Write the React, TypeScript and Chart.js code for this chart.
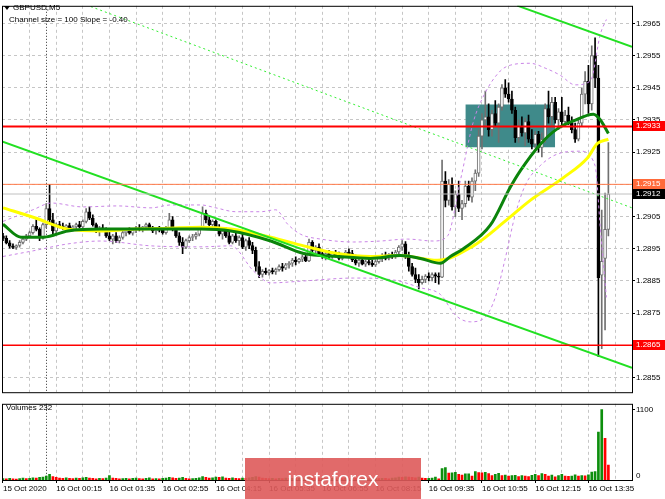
import React, { useEffect, useRef } from 'react';
import { Chart, registerables } from 'chart.js';
Chart.register(...registerables);

const FONT = "'Liberation Sans', Arial, sans-serif";

// ---- time axis (bar index relative to 16 Oct 00:00, M5 bars) ----
const FIRST_BAR = -13;
const X_MIN = -13.3;
const X_MAX = 176.1;
const gridBars = [-5, 3, 11, 19, 27, 35, 43, 51, 59, 67, 75, 83, 91, 99, 107, 115, 123, 131, 139, 147, 155, 163, 171];
const labelBars = [-13, 3, 19, 35, 51, 67, 83, 99, 115, 131, 147, 163];
const labelTexts = ['15 Oct 2020', '16 Oct 00:15', '16 Oct 01:35', '16 Oct 02:55', '16 Oct 04:15', '16 Oct 05:35', '16 Oct 06:55', '16 Oct 08:15', '16 Oct 09:35', '16 Oct 10:55', '16 Oct 12:15', '16 Oct 13:35'];
const separatorBar = 0;

// ---- price axis ----
const P_MIN = 1.285045;
const P_MAX = 1.297045;
const priceTicks = [1.2855, 1.2865, 1.2875, 1.2885, 1.2895, 1.2905, 1.2915, 1.2925, 1.2935, 1.2945, 1.2955, 1.2965];

// ---- candles ----
const opens = [1.28990,1.28982,1.28968,1.28958,1.28954,1.28960,1.28970,1.28980,1.28990,1.29000,1.29020,1.29010,1.28985,
1.29025,1.29075,1.29040,1.29005,1.29025,1.29020,1.29015,1.29022,1.29012,1.29018,
1.29025,1.29018,1.29035,1.29065,1.29045,1.29025,1.29005,1.29015,1.29010,1.28990,
1.28980,1.28990,1.28975,1.28985,1.29000,1.29005,1.28998,1.29008,1.29015,1.29010,
1.29018,1.29025,1.29012,1.29005,1.29012,1.29008,1.29000,1.29015,1.29040,1.29010,
1.28990,1.28970,1.28955,1.28975,1.28985,1.28988,1.28995,1.29015,1.29060,1.29040,
1.29025,1.29035,1.29015,1.28995,1.29005,1.28990,1.28970,1.28990,1.28975,1.28985,
1.28955,1.28975,1.28960,1.28945,1.28895,1.28870,1.28880,1.28875,1.28882,1.28878,
1.28885,1.28895,1.28890,1.28900,1.28905,1.28915,1.28910,1.28918,1.28925,1.28912,
1.28970,1.28945,1.28955,1.28935,1.28930,1.28935,1.28925,1.28935,1.28930,1.28920,
1.28930,1.28940,1.28935,1.28915,1.28905,1.28915,1.28902,1.28910,1.28905,1.28900,
1.28910,1.28920,1.28930,1.28920,1.28932,1.28925,1.28940,1.28955,1.28965,1.28925,
1.28895,1.28870,1.28855,1.28845,1.28855,1.28865,1.28860,1.28870,1.28865,
1.28862,1.29160,1.29100,1.29150,1.29080,1.29120,1.29075,1.29090,1.29145,1.29110,1.29160,
1.29185,1.29300,1.29350,1.29360,1.29320,1.29370,1.29340,1.29390,1.29450,1.29430,
1.29415,1.29380,1.29295,1.29330,1.29310,1.29345,1.29290,1.29275,1.29305,1.29265,
1.29290,1.29385,1.29360,1.29405,1.29350,1.29375,1.29345,1.29365,1.29340,1.29320,
1.29290,1.29340,1.29430,1.29470,1.29400,1.29550,1.29480,1.28868,1.28920,1.29010];
const highs = [1.28998,1.28990,1.28975,1.28965,1.28962,1.28975,1.28985,1.28995,1.29005,1.29025,1.29040,1.29015,1.29030,
1.29090,1.29150,1.29060,1.29030,1.29035,1.29030,1.29025,1.29030,1.29022,1.29030,
1.29035,1.29040,1.29075,1.29080,1.29055,1.29030,1.29020,1.29025,1.29015,1.29005,
1.28995,1.29000,1.28990,1.29005,1.29010,1.29015,1.29010,1.29020,1.29025,1.29020,
1.29030,1.29030,1.29020,1.29015,1.29020,1.29015,1.29020,1.29060,1.29050,1.29015,
1.29000,1.28985,1.28980,1.28990,1.28995,1.29000,1.29020,1.29080,1.29070,1.29050,
1.29040,1.29040,1.29025,1.29010,1.29015,1.29005,1.28995,1.29000,1.28990,1.28995,
1.28980,1.28985,1.28970,1.28955,1.28910,1.28885,1.28890,1.28885,1.28890,1.28890,
1.28900,1.28905,1.28905,1.28910,1.28920,1.28925,1.28920,1.28930,1.28935,1.28980,
1.28975,1.28960,1.28965,1.28945,1.28940,1.28945,1.28940,1.28945,1.28940,1.28935,
1.28945,1.28950,1.28945,1.28930,1.28920,1.28925,1.28915,1.28920,1.28915,1.28915,
1.28925,1.28935,1.28940,1.28935,1.28940,1.28945,1.28960,1.28975,1.28972,1.28940,
1.28905,1.28890,1.28870,1.28865,1.28870,1.28875,1.28875,1.28875,1.28875,
1.29225,1.29190,1.29165,1.29170,1.29130,1.29160,1.29100,1.29160,1.29160,1.29170,1.29195,
1.29320,1.29370,1.29440,1.29400,1.29380,1.29410,1.29400,1.29460,1.29475,1.29465,
1.29440,1.29390,1.29350,1.29360,1.29355,1.29365,1.29320,1.29315,1.29315,1.29310,
1.29400,1.29440,1.29420,1.29420,1.29385,1.29420,1.29380,1.29390,1.29360,1.29340,
1.29350,1.29450,1.29500,1.29520,1.29580,1.29605,1.29520,1.29070,1.29123,1.29280];
const lows = [1.28975,1.28965,1.28952,1.28950,1.28948,1.28955,1.28965,1.28975,1.28985,1.28995,1.29005,1.28975,1.28980,
1.29015,1.29030,1.28990,1.29000,1.29015,1.29010,1.29008,1.29010,1.29005,1.29012,
1.29015,1.29015,1.29030,1.29040,1.29020,1.29000,1.28990,1.29005,1.28985,1.28975,
1.28965,1.28970,1.28968,1.28980,1.28990,1.28995,1.28992,1.29000,1.29005,1.29002,
1.29010,1.29010,1.29000,1.28995,1.29002,1.28995,1.28995,1.29010,1.29005,1.28985,
1.28960,1.28935,1.28950,1.28970,1.28975,1.28980,1.28990,1.29010,1.29030,1.29020,
1.29015,1.29010,1.28990,1.28980,1.28985,1.28965,1.28965,1.28970,1.28960,1.28950,
1.28945,1.28950,1.28935,1.28880,1.28860,1.28862,1.28870,1.28868,1.28872,1.28870,
1.28880,1.28880,1.28885,1.28890,1.28895,1.28900,1.28905,1.28910,1.28910,1.28910,
1.28935,1.28935,1.28930,1.28920,1.28915,1.28920,1.28920,1.28925,1.28915,1.28915,
1.28925,1.28930,1.28910,1.28900,1.28895,1.28900,1.28895,1.28900,1.28895,1.28895,
1.28905,1.28910,1.28915,1.28915,1.28920,1.28920,1.28935,1.28945,1.28920,1.28880,
1.28865,1.28845,1.28825,1.28840,1.28845,1.28850,1.28850,1.28845,1.28840,
1.28860,1.29080,1.29085,1.29070,1.29050,1.29065,1.29040,1.29080,1.29100,1.29095,1.29130,
1.29175,1.29260,1.29330,1.29300,1.29300,1.29330,1.29280,1.29380,1.29420,1.29405,
1.29370,1.29280,1.29280,1.29300,1.29270,1.29280,1.29260,1.29265,1.29250,1.29235,
1.29280,1.29340,1.29330,1.29340,1.29320,1.29335,1.29330,1.29335,1.29310,1.29280,
1.29285,1.29330,1.29400,1.29370,1.29380,1.29450,1.28615,1.28640,1.28698,1.28990];
const closes = [1.28982,1.28968,1.28958,1.28954,1.28960,1.28970,1.28980,1.28990,1.29000,1.29020,1.29010,1.28985,1.29025,
1.29075,1.29040,1.29005,1.29025,1.29020,1.29015,1.29022,1.29012,1.29018,1.29025,
1.29018,1.29035,1.29065,1.29045,1.29025,1.29005,1.29015,1.29010,1.28990,1.28980,
1.28990,1.28975,1.28985,1.29000,1.29005,1.28998,1.29008,1.29015,1.29010,1.29018,
1.29025,1.29012,1.29005,1.29012,1.29008,1.29000,1.29015,1.29040,1.29010,1.28990,
1.28970,1.28955,1.28975,1.28985,1.28988,1.28995,1.29015,1.29060,1.29040,1.29025,
1.29035,1.29015,1.28995,1.29005,1.28990,1.28970,1.28990,1.28975,1.28985,1.28955,
1.28975,1.28960,1.28945,1.28895,1.28870,1.28880,1.28875,1.28882,1.28878,1.28885,
1.28895,1.28890,1.28900,1.28905,1.28915,1.28910,1.28918,1.28925,1.28912,1.28970,
1.28945,1.28955,1.28935,1.28930,1.28935,1.28925,1.28935,1.28930,1.28920,1.28930,
1.28940,1.28935,1.28915,1.28905,1.28915,1.28902,1.28910,1.28905,1.28900,1.28910,
1.28920,1.28930,1.28920,1.28932,1.28925,1.28940,1.28955,1.28965,1.28925,1.28895,
1.28870,1.28855,1.28845,1.28855,1.28865,1.28860,1.28870,1.28865,1.28862,
1.29160,1.29100,1.29150,1.29080,1.29120,1.29075,1.29090,1.29145,1.29110,1.29160,1.29185,
1.29300,1.29350,1.29360,1.29320,1.29370,1.29340,1.29390,1.29450,1.29430,1.29415,
1.29380,1.29295,1.29330,1.29310,1.29345,1.29290,1.29275,1.29305,1.29265,1.29290,
1.29385,1.29360,1.29405,1.29350,1.29375,1.29345,1.29365,1.29340,1.29320,1.29290,
1.29340,1.29430,1.29470,1.29400,1.29550,1.29480,1.28860,1.28911,1.29010,1.29120];
const volumes = [22,18,25,20,16,24,30,22,28,35,30,40,45,
60,90,55,40,30,25,35,28,22,30,
25,35,40,30,25,20,28,22,30,70,
30,25,20,22,28,18,25,30,22,20,
25,35,20,22,18,25,30,40,35,25,
30,40,25,20,22,28,35,55,40,30,
35,45,40,50,30,28,35,25,22,30,
28,35,40,55,45,30,25,22,28,20,
25,22,30,25,28,22,25,30,28,45,
35,28,25,30,22,20,25,22,28,24,
26,22,30,28,20,25,22,24,20,26,
22,28,25,20,30,35,45,40,50,45,
40,35,45,30,25,28,30,45,20,
180,195,110,112,118,90,78,95,98,62,130,
115,112,120,100,70,88,105,70,75,60,
68,72,55,70,62,55,72,90,68,100,
88,62,75,50,70,88,62,58,60,80,
60,70,65,80,125,130,750,1100,650,232];

// ---- indicators, [bar, price] ----
const fastMA = [[-13,1.29026],[-7.6,1.28986],[-0.7,1.28986],[6.5,1.29005],[16.4,1.29011],[26.4,1.29011],[36.5,1.29011],[46.5,1.29011],[55.5,1.29005],[67.5,1.28974],[77.4,1.28935],[87.6,1.28926],[97.5,1.2892],[106.5,1.28929],[112.5,1.2892],[118.5,1.28905],[121.5,1.28926],[125.4,1.2895],[133.5,1.29023],[139.5,1.29141],[142.5,1.29192],[148.5,1.29274],[153.7,1.29323],[158.5,1.29347],[164.5,1.29368],[166.6,1.2935],[169,1.29308]];
const slowMA = [[-13,1.29077],[-3.7,1.29047],[6.5,1.29011],[16.4,1.29005],[26.4,1.29011],[36.5,1.29014],[46.5,1.29017],[55.5,1.29011],[67.5,1.28986],[77.4,1.28959],[87.6,1.28935],[97.5,1.28926],[106.5,1.28929],[117.6,1.28914],[128.4,1.28959],[138.6,1.29041],[145.6,1.29101],[155.5,1.29171],[162.7,1.29232],[165.7,1.29277],[169,1.2929]];
const bandUpper = [[-13,1.29035],[-4,1.29071],[1.5,1.29092],[11,1.2908],[21.5,1.29083],[31.5,1.29077],[37.5,1.29086],[46.5,1.29086],[51,1.29077],[57,1.29065],[64.5,1.29065],[69,1.29071],[72.6,1.29026],[76.5,1.28995],[82.5,1.2898],[92.4,1.28971],[100.5,1.28974],[108.6,1.2898],[116.4,1.28974],[120.6,1.28989],[124.5,1.29162],[128.4,1.29344],[132,1.29435],[136.5,1.29502],[139.5,1.2952],[145.5,1.29526],[150,1.29511],[154.5,1.29489],[159,1.29459],[163.6,1.29471],[166.6,1.29617],[168.4,1.29662]];
const bandLower = [[-13,1.28926],[-3.7,1.28944],[6.5,1.28965],[16.4,1.28974],[31.5,1.28959],[46.5,1.28956],[55.5,1.28959],[62.4,1.2888],[67.5,1.28844],[77.4,1.2885],[92.4,1.28859],[104.4,1.28853],[112.5,1.28829],[118.5,1.28808],[123,1.28744],[127.5,1.28723],[132,1.28738],[135,1.28799],[138,1.2892],[141,1.29056],[144,1.29147],[148.5,1.29208],[154.5,1.29247],[160.6,1.29253],[165,1.29208],[166.6,1.29011],[168.4,1.28799]];
const channelLower = [[-13.3,1.29283],[176.1,1.2858]];
const channelUpper = [[141.6,1.29705],[176.1,1.29577]];
const channelMiddle = [[13.4,1.29702],[176.1,1.29077]];
const levelHigh = 1.2933;
const levelLow = 1.2865;
const levelOrange = 1.2915;
const bidPrice = 1.2912;
const zoneBars = [126, 153];
const zonePrices = [1.29265, 1.29398];
const VOL_MAX = 1190;
const volumeLabel = 232;

const pts = (arr: number[][]) => arr.map(([x, y]) => ({ x, y }));
const hline = (p: number) => [{ x: X_MIN, y: p }, { x: X_MAX, y: p }];

export default function App() {
  const mainRef = useRef<HTMLCanvasElement>(null);
  const volRef = useRef<HTMLCanvasElement>(null);

  useEffect(() => {
    const bars = opens.map((_, i) => FIRST_BAR + i);
    const bull = opens.map((o, i) => closes[i] >= o);
    const gridCol = '#c6c6c6';

    const separator = {
      id: 'separator',
      beforeDatasetsDraw(chart: any) {
        const { ctx, chartArea: a, scales } = chart;
        const px = Math.round(scales.x.getPixelForValue(separatorBar)) + 0.5;
        ctx.save();
        ctx.strokeStyle = '#303030';
        ctx.lineWidth = 1;
        ctx.setLineDash([1, 2]);
        ctx.beginPath();
        ctx.moveTo(px, a.top);
        ctx.lineTo(px, a.bottom);
        ctx.stroke();
        ctx.restore();
      },
    };

    const mainDecor = {
      id: 'mainDecor',
      afterDraw(chart: any) {
        const { ctx, chartArea: a, scales } = chart;
        ctx.save();
        ctx.strokeStyle = '#000';
        ctx.lineWidth = 1;
        ctx.strokeRect(a.left + 0.5, a.top + 0.5, a.right - a.left, a.bottom - a.top);
        ctx.font = `8px ${FONT}`;
        ctx.textBaseline = 'middle';
        ctx.fillStyle = '#000';
        ctx.beginPath();
        ctx.moveTo(4, 6);
        ctx.lineTo(10, 6);
        ctx.lineTo(7, 10);
        ctx.closePath();
        ctx.fill();
        ctx.fillText('GBPUSD,M5', 13, 8);
        ctx.fillText('Channel size = 100 Slope = -0.40', 9, 19.5);
        const boxes = [
          { p: levelHigh, bg: '#ff0000' },
          { p: levelOrange, bg: '#ff6a3a' },
          { p: bidPrice, bg: '#000000' },
          { p: levelLow, bg: '#ff0000' },
        ];
        for (const b of boxes) {
          const y = scales.y.getPixelForValue(b.p);
          ctx.fillStyle = b.bg;
          ctx.fillRect(a.right + 1, Math.round(y) - 5, 665 - a.right - 1, 10);
          ctx.fillStyle = '#fff';
          ctx.fillText(b.p.toFixed(4), a.right + 4, Math.round(y));
        }
        ctx.restore();
      },
    };

    const lineDs = (label: string, data: any[], color: string, width: number, order: number, extra: any = {}) => ({
      type: 'line', label, data, borderColor: color, borderWidth: width, pointRadius: 0, fill: false, order, ...extra,
    });

    const main = new Chart(mainRef.current as HTMLCanvasElement, {
      type: 'line',
      data: {
        datasets: [
          {
            type: 'line', label: 'zone',
            data: [{ x: zoneBars[0], y: zonePrices[1] }, { x: zoneBars[1], y: zonePrices[1] }],
            borderWidth: 0, pointRadius: 0, fill: { value: zonePrices[0] }, backgroundColor: '#3f8a8a', order: 30,
          },
          {
            type: 'bar', label: 'wicks',
            data: bars.map((b, i) => ({ x: b, y: [lows[i], highs[i]] })),
            barThickness: 1, grouped: false,
            backgroundColor: bull.map((u) => (u ? '#707070' : '#000000')),
            order: 21,
          },
          {
            type: 'bar', label: 'bodies',
            data: bars.map((b, i) => ({ x: b, y: [Math.min(opens[i], closes[i]), Math.max(opens[i], closes[i])] })),
            barThickness: 3, grouped: false, minBarLength: 1, borderSkipped: false, borderWidth: 1,
            backgroundColor: bull.map((u) => (u ? '#ffffff' : '#000000')),
            borderColor: bull.map((u) => (u ? '#707070' : '#000000')),
            order: 20,
          },
          lineDs('bandUpper', pts(bandUpper), '#c985e6', 1, 12, { borderDash: [3, 3], cubicInterpolationMode: 'monotone' }),
          lineDs('bandLower', pts(bandLower), '#c985e6', 1, 12, { borderDash: [3, 3], cubicInterpolationMode: 'monotone' }),
          lineDs('slowMA', pts(slowMA), '#ffff00', 3, 9, { cubicInterpolationMode: 'monotone' }),
          lineDs('fastMA', pts(fastMA), '#0b840b', 3, 8, { cubicInterpolationMode: 'monotone' }),
          lineDs('channelMid', pts(channelMiddle), '#33ee33', 1, 7, { borderDash: [2, 3] }),
          lineDs('channelLow', pts(channelLower), '#22e022', 2, 6),
          lineDs('channelUp', pts(channelUpper), '#22e022', 2, 6),
          lineDs('bid', hline(bidPrice), '#c0c0c0', 1, 5),
          lineDs('orange', hline(levelOrange), '#ff7a4a', 1, 4),
          lineDs('red1', hline(levelHigh), '#ff0000', 2, 3),
          lineDs('red2', hline(levelLow), '#ff0000', 1.5, 3),
        ] as any,
      },
      options: {
        responsive: false,
        animation: false,
        events: [],
        layout: { padding: { left: 2, top: 1, right: 0, bottom: 1 } },
        plugins: { legend: { display: false }, tooltip: { enabled: false } },
        scales: {
          x: {
            type: 'linear', min: X_MIN, max: X_MAX, offset: false,
            afterBuildTicks: (s: any) => { s.ticks = gridBars.map((v) => ({ value: v })); },
            afterFit: (s: any) => { s.height = 0; },
            ticks: { display: false },
            grid: { color: gridCol, drawTicks: false, offset: false },
            border: { display: false, dash: [3, 3] },
          },
          y: {
            type: 'linear', position: 'right', min: P_MIN, max: P_MAX,
            afterBuildTicks: (s: any) => { s.ticks = priceTicks.map((v) => ({ value: v })); },
            afterFit: (s: any) => { s.width = 33; },
            ticks: { font: { family: FONT, size: 8 }, color: '#000', padding: 1, callback: (v: any) => Number(v).toFixed(4) },
            grid: { color: gridCol, tickColor: '#000', tickLength: 3, drawTicks: true },
            border: { display: false, dash: [3, 3] },
          },
        },
      } as any,
      plugins: [separator, mainDecor],
    });

    const volDecor = {
      id: 'volDecor',
      afterDraw(chart: any) {
        const { ctx, chartArea: a } = chart;
        ctx.save();
        ctx.strokeStyle = '#000';
        ctx.lineWidth = 1;
        ctx.strokeRect(a.left + 0.5, a.top + 0.5, a.right - a.left, a.bottom - a.top);
        ctx.font = `8px ${FONT}`;
        ctx.textBaseline = 'middle';
        ctx.fillStyle = '#000';
        ctx.fillText(`Volumes ${volumeLabel}`, 6, 10);
        ctx.restore();
      },
    };

    const vol = new Chart(volRef.current as HTMLCanvasElement, {
      type: 'line',
      data: {
        datasets: [
          {
            type: 'bar', label: 'volume',
            data: bars.map((b, i) => ({ x: b, y: volumes[i] })),
            barThickness: 2, grouped: false,
            backgroundColor: volumes.map((v, i) => (i === 0 || v >= volumes[i - 1] ? '#0d8f0d' : '#ff0000')),
          },
        ] as any,
      },
      options: {
        responsive: false,
        animation: false,
        events: [],
        layout: { padding: { left: 2, top: 2, right: 0, bottom: 0 } },
        plugins: { legend: { display: false }, tooltip: { enabled: false } },
        scales: {
          x: {
            type: 'linear', min: X_MIN, max: X_MAX, offset: false,
            afterBuildTicks: (s: any) => {
              const all = Array.from(new Set([...gridBars, ...labelBars])).sort((p, q) => p - q);
              s.ticks = all.map((v) => ({ value: v }));
            },
            afterFit: (s: any) => { s.height = 19; },
            ticks: {
              autoSkip: false, maxRotation: 0, minRotation: 0, align: 'start', padding: 1,
              font: { family: FONT, size: 8 }, color: '#000',
              callback: (v: any) => { const k = labelBars.indexOf(Number(v)); return k >= 0 ? labelTexts[k] : ''; },
            },
            grid: {
              offset: false, drawTicks: true, tickLength: 3,
              color: (c: any) => (c.tick && c.tick.value < X_MIN + 1 ? 'rgba(0,0,0,0)' : gridCol),
              tickColor: (c: any) => (c.tick && labelBars.includes(c.tick.value) ? '#000' : 'rgba(0,0,0,0)'),
            },
            border: { display: false, dash: [3, 3] },
          },
          y: {
            type: 'linear', position: 'right', min: 0, max: VOL_MAX,
            afterBuildTicks: (s: any) => { s.ticks = [{ value: 60 }, { value: 1100 }]; },
            afterFit: (s: any) => { s.width = 33; },
            ticks: { font: { family: FONT, size: 8 }, color: '#000', padding: 1, callback: (v: any) => (Number(v) < 100 ? '0' : String(v)) },
            grid: { drawOnChartArea: false, tickLength: 3, tickColor: (c: any) => (c.tick && c.tick.value > 100 ? '#000' : 'rgba(0,0,0,0)') },
            border: { display: false },
          },
        },
      } as any,
      plugins: [separator, volDecor],
    });

    return () => { main.destroy(); vol.destroy(); };
  }, []);

  return (
    <div style={{ position: 'fixed', left: 0, top: 0, width: 665, height: 499, background: '#fff', overflow: 'hidden' }}>
      <canvas ref={mainRef} width={665} height={398} style={{ position: 'absolute', left: 0, top: 0, width: 665, height: 398 }} />
      <canvas ref={volRef} width={665} height={101} style={{ position: 'absolute', left: 0, top: 398, width: 665, height: 101 }} />
      <div
        style={{
          position: 'absolute', left: 245, top: 458, width: 176, height: 41,
          background: 'rgba(222, 90, 90, 0.9)', color: '#fff',
          font: `21px ${FONT}`, display: 'flex', alignItems: 'center', justifyContent: 'center',
        }}
      >
        instaforex
      </div>
    </div>
  );
}
